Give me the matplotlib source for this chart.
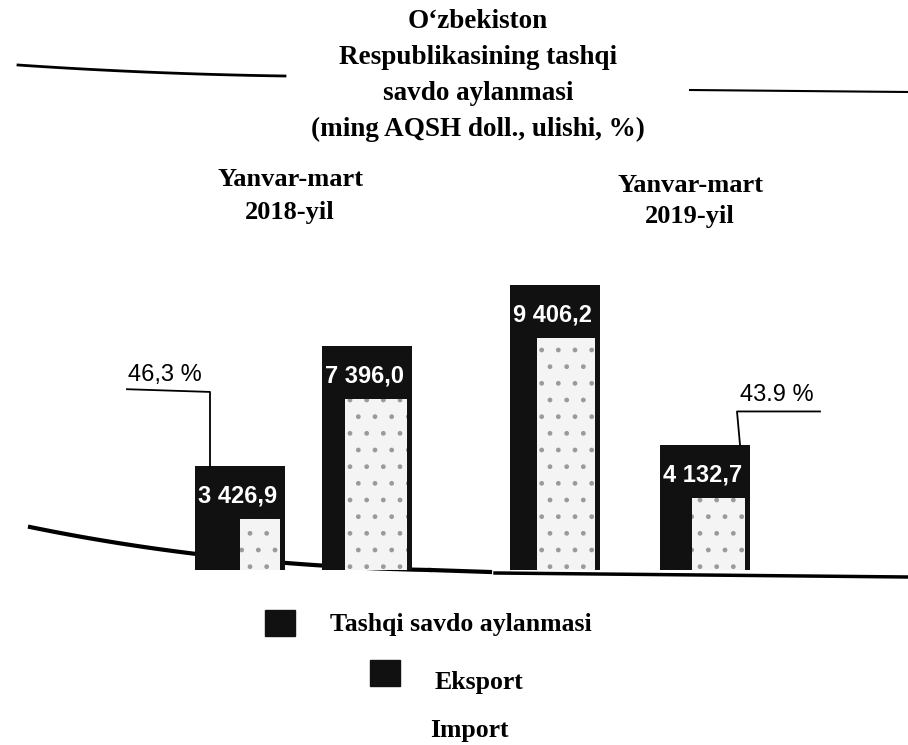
import numpy as np
import matplotlib.pyplot as plt

# Tashqi savdo aylanmasi, ming AQSH doll.
periods = ['Yanvar-mart\n2018-yil', 'Yanvar-mart\n2019-yil']
turnover = [7396.0, 9406.2]
export = [3426.9, 4132.7]
share_labels = ['46,3 %', '43.9 %']
legend_labels = ['Tashqi savdo aylanmasi', 'Eksport', 'Import']

serif = 'Liberation Serif'
sans = 'Liberation Sans'


def fmt(v):
    return f'{v:,.1f}'.replace(',', ' ').replace('.', ',')


fig = plt.figure(figsize=(9.08, 7.45), dpi=100)

# overlay in pixel units for titles and decorative rules
deco = fig.add_axes([0, 0, 1, 1])
deco.set_xlim(0, 908)
deco.set_ylim(745, 0)
deco.axis('off')

# bar axes: baseline at y=570 px, 10000 units ~ 303 px
base_px, unit_px = 570, 285 / 9406.2
ax = fig.add_axes([0, (745 - base_px) / 745, 1, 10000 * unit_px / 745])
ax.set_xlim(0, 908)
ax.set_ylim(0, 10000)
ax.axis('off')

w = 90
x_exp = [240, 705]
x_tot = [367, 555]

for i in range(2):
    for x, v, inner_off in [(x_exp[i], export[i], 0.5 if i == 0 else 0.35),
                            (x_tot[i], turnover[i], 0.25 if i == 0 else 0.3)]:
        ax.bar(x, v, width=w, color='#111111', zorder=3)
        left = x - w / 2 + inner_off * w
        right = x + w / 2 - 0.06 * w
        ax.bar(left, v - 1750, width=right - left, align='edge', color='#f4f4f4',
               edgecolor='#9a9a9a', linewidth=0, hatch='.', zorder=4)
        ax.text(x - w / 2 + 3, v - 1000, fmt(v), color='white',
                fontsize=17, fontweight='bold', family=sans, va='center',
                ha='left', zorder=6)

# leader lines to export share labels
rise = [2450, 1100]
ax.plot([x_exp[0] - 30, x_exp[0] - 30, x_exp[0] - 113],
        [export[0], export[0] + rise[0], export[0] + rise[0] + 90],
        color='black', lw=1.3, zorder=5)
ax.text(x_exp[0] - 75, export[0] + rise[0] + 550, share_labels[0],
        fontsize=17, family=sans, ha='center', va='center')
ax.plot([x_exp[1] + 35, x_exp[1] + 32, x_exp[1] + 115],
        [export[1], export[1] + rise[1], export[1] + rise[1]],
        color='black', lw=1.3, zorder=5)
ax.text(x_exp[1] + 72, export[1] + rise[1] + 550, share_labels[1],
        fontsize=17, family=sans, ha='center', va='center')

# decorative rules
t = np.linspace(0, 1, 60)
p0, c, p2 = np.array([30, 527]), np.array([220, 566]), np.array([430, 570])
curve = ((1 - t) ** 2)[:, None] * p0 + (2 * (1 - t) * t)[:, None] * c + (t ** 2)[:, None] * p2
deco.plot(curve[:, 0], curve[:, 1], color='black', lw=3)
deco.plot([430, 490], [570, 572], color='black', lw=3)
deco.plot([495, 908], [573, 577], color='black', lw=2.5)
top = ((1 - t) ** 2)[:, None] * np.array([18, 65]) + (2 * (1 - t) * t)[:, None] * np.array([150, 74]) \
    + (t ** 2)[:, None] * np.array([285, 76])
deco.plot(top[:, 0], top[:, 1], color='black', lw=2)
deco.plot([690, 908], [90, 92], color='black', lw=1.5)

# title
title = ["O\u2018zbekiston", 'Respublikasining tashqi', 'savdo aylanmasi',
         '(ming AQSH doll., ulishi, %)']
for k, line in enumerate(title):
    deco.text(478, 21 + k * 36, line, fontsize=19.5, fontweight='bold',
              family=serif, ha='center', va='center')

deco.text(290, 196, periods[0], fontsize=19, fontweight='bold', family=serif,
          ha='center', va='center', linespacing=1.5)
deco.text(690, 201, periods[1], fontsize=19, fontweight='bold', family=serif,
          ha='center', va='center', linespacing=1.5)

# legend
sq = [(280, 623), (385, 673), None]
tx = [(330, 625), (435, 683), (430, 730)]
for s, (x, y), lab in zip(sq, tx, legend_labels):
    if s is not None:
        deco.add_patch(plt.Rectangle((s[0] - 15, s[1] - 13), 30, 26, color='#111111'))
    deco.text(x, y, lab, fontsize=18.5, fontweight='bold', family=serif,
              ha='left', va='center')

fig.savefig('out.png', dpi=100)
